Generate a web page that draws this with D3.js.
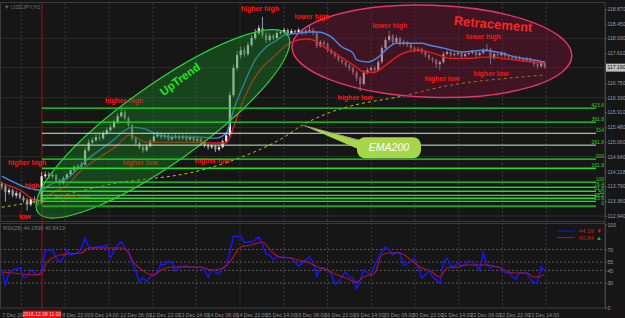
<!DOCTYPE html>
<html>
<head>
<meta charset="utf-8">
<script src="https://cdn.jsdelivr.net/npm/d3@7/dist/d3.min.js"></script>
<style>
  body { margin: 0; background: #161616; }
  svg { display: block; font-family: "Liberation Sans", Arial, sans-serif; }
</style>
</head>
<body>
<svg id="chart" width="625" height="318"></svg>
<script>
// USDJPY H1 (drawn as 2-hour bars), 7 Dec - 23 Dec 2016
const firstOpen = 113.85;
const closes = [113.79,113.62,113.68,113.53,113.59,113.47,113.39,113.27,113.42,113.36,
  113.30,114.08,114.13,114.08,114.11,113.96,113.88,114.02,114.13,114.25,
  114.34,114.36,114.42,114.82,115.05,115.11,115.20,115.17,115.31,115.40,
  115.48,115.63,115.80,115.91,115.74,115.54,115.17,115.03,114.91,114.82,
  114.94,115.08,115.22,115.28,115.20,115.25,115.14,115.20,115.22,115.17,
  115.22,115.14,115.20,115.11,115.14,115.05,114.97,114.91,114.94,114.85,
  114.91,115.08,115.25,116.40,117.18,117.55,117.69,117.58,117.84,118.04,
  118.18,118.32,118.12,117.98,118.10,118.04,118.18,118.21,118.27,118.18,
  118.24,118.21,118.27,118.18,118.24,118.27,118.18,117.81,117.92,117.87,
  117.69,117.61,117.52,117.41,117.35,117.26,117.18,117.06,116.89,116.72,
  117.06,117.12,117.18,117.12,117.35,117.75,117.98,118.10,117.92,118.04,
  117.87,117.92,117.84,117.75,117.69,117.72,117.64,117.55,117.46,117.41,
  117.29,117.35,117.58,117.64,117.55,117.58,117.61,117.52,117.58,117.61,
  117.64,117.55,117.61,117.69,117.72,117.46,117.58,117.55,117.61,117.52,
  117.49,117.46,117.49,117.44,117.41,117.44,117.38,117.29,117.23,117.32,
  117.20];
const highs = [113.92,113.85,113.75,113.72,113.66,113.63,113.52,113.45,113.48,113.50,
  113.42,114.20,114.22,114.20,114.18,114.14,114.00,114.08,114.18,114.30,
  114.40,114.43,114.50,114.90,115.14,115.20,115.27,115.28,115.38,115.47,
  115.56,115.70,115.88,116.03,115.97,115.79,115.58,115.22,115.08,114.96,
  115.00,115.14,115.30,115.36,115.33,115.32,115.30,115.26,115.29,115.27,
  115.28,115.26,115.25,115.24,115.20,115.18,115.09,115.01,115.00,114.98,
  114.97,115.13,115.32,116.50,117.28,117.66,117.80,117.78,117.92,118.12,
  118.30,118.40,118.64,118.20,118.18,118.15,118.24,118.27,118.33,118.31,
  118.30,118.28,118.33,118.30,118.30,118.41,118.32,118.22,117.98,117.97,
  117.91,117.74,117.66,117.56,117.47,117.40,117.31,117.22,117.10,116.95,
  117.12,117.19,117.25,117.23,117.42,117.82,118.06,118.24,118.15,118.12,
  118.08,117.99,117.96,117.88,117.80,117.78,117.76,117.68,117.59,117.50,
  117.45,117.40,117.64,117.70,117.68,117.64,117.67,117.64,117.63,117.66,
  117.70,117.68,117.66,117.75,117.87,117.76,117.64,117.62,117.66,117.64,
  117.57,117.54,117.54,117.53,117.48,117.50,117.48,117.41,117.33,117.37,
  117.36];
const lows = [113.70,113.35,113.55,113.48,113.45,113.42,113.33,113.10,113.22,113.30,
  113.22,113.26,114.02,114.01,114.02,113.90,113.82,113.84,113.98,114.09,
  114.20,114.28,114.31,114.38,114.78,115.00,115.06,115.10,115.12,115.26,
  115.35,115.44,115.58,115.76,115.68,115.48,115.10,114.96,114.85,114.75,
  114.78,114.90,115.04,115.18,115.14,115.15,115.09,115.10,115.15,115.11,
  115.12,115.08,115.09,115.06,115.05,114.99,114.90,114.84,114.86,114.77,
  114.80,114.88,115.04,115.20,116.35,117.10,117.45,117.50,117.52,117.78,
  117.98,118.12,118.05,117.90,117.93,117.98,118.00,118.13,118.16,118.13,
  118.14,118.15,118.17,118.12,118.13,118.20,118.12,117.74,117.76,117.80,
  117.63,117.55,117.46,117.35,117.28,117.20,117.10,116.98,116.80,116.52,
  116.68,117.00,117.08,117.05,117.08,117.30,117.70,117.92,117.86,117.88,
  117.80,117.82,117.78,117.69,117.63,117.64,117.58,117.49,117.40,117.33,
  117.18,117.12,117.30,117.54,117.50,117.51,117.53,117.47,117.48,117.54,
  117.57,117.50,117.51,117.57,117.64,117.28,117.42,117.49,117.50,117.47,
  117.43,117.40,117.41,117.38,117.35,117.36,117.32,117.22,117.15,117.18,
  117.16];

// moving averages (bar index, price)
const blueBars = [0,11,13,18,24,30,36,39,43,47,55,59,62,64,67,70,73,76,78,82,85,87,91,94,97,98,101,104,106,109,111,116,118,122,127,133,138,142,147,150];
const blueVals = [114.08,113.68,113.82,114.02,114.59,115.05,115.48,115.45,115.28,115.20,115.20,115.17,115.31,115.97,116.75,117.41,117.78,117.98,118.12,118.18,118.21,118.21,118.07,117.78,117.61,117.41,117.35,117.49,117.69,117.89,117.89,117.89,117.84,117.75,117.64,117.69,117.61,117.49,117.41,117.35];
const redBars = [0,5,11,13,18,22,27,32,35,37,40,44,55,59,62,64,66,69,72,75,78,80,84,86,89,92,95,98,100,103,106,109,111,115,119,124,129,133,138,142,147,150];
const redVals = [113.88,113.68,113.30,113.53,113.82,114.25,114.62,114.97,115.25,115.20,115.05,115.05,115.05,115.03,115.03,115.48,116.06,116.75,117.20,117.49,117.78,117.92,118.01,117.98,117.78,117.61,117.41,117.20,117.06,117.06,117.26,117.49,117.61,117.69,117.61,117.46,117.46,117.49,117.46,117.41,117.35,117.32];
const emaBars = [0,11,30,55,66,78,83,90,96,110,124,140,150];
const emaVals = [113.19,113.39,113.85,114.25,114.62,115.20,115.54,115.88,116.08,116.36,116.69,116.89,116.98];

// fibonacci expansion
const fibLevels = ["423.6","361.8","314","261.8","200","161.8","100","76.4","61.8","50","38.2","23.6","0"];
const fibPrices = [116.03,115.63,115.31,114.97,114.57,114.31,113.91,113.76,113.65,113.53,113.45,113.36,113.22];

// RSI(28) and its signal
const rsi = [45.5,28,42,45.5,46.7,48,36,38,45.5,42,
  39.6,45,68,69.4,69.4,60,55,60,69.4,63.4,
  64.5,65.8,71.8,83.7,73,71.8,73,73,74,75.4,
  60,68,75,79,71.8,65.8,55,44,32,36,
  32,37,39.6,43,52.7,51.5,56.3,54,44,49,
  50.3,50.3,49,49,48,49,45.5,37,45.5,43,
  40.8,48,50.3,67,86,85,86,78,79,79,
  81.3,85,75.4,64.5,63.4,57.5,61,61,59.9,59.9,
  59.9,55,50.3,54,57.5,61,55,38,48,48,
  45.5,40.8,28.8,30,38,43,37,36,22.8,33.6,
  45.5,42,40.8,50.3,59.9,68,73,69.4,63.4,67,
  65.8,51.5,52.7,55,58.7,48,36,39.6,45.5,37,
  33.6,30,55,59.9,50.3,50.3,54,50.3,51.5,56.3,
  55,51.5,45.5,65.8,52.7,48,50.3,49,48,42,
  42,38,34.8,42,42,42,34.8,30,31.2,49,
  44.2];
const sigBars = [0,3,9,11,12,14,18,22,24,27,31,33,35,36,38,40,42,44,47,55,58,61,63,66,69,72,73,75,77,80,82,85,88,90,91,95,98,100,103,105,107,110,113,116,118,121,123,126,128,131,134,137,140,142,145,147,148,150];
const sigVals = [43.1,41.9,39.6,40.8,51.5,59.9,64.6,65.8,71.8,71.8,71.8,71.8,67,57.5,47.9,41.9,39.6,45.5,49.1,49.1,45.5,47.9,55.1,73,75.4,79,75.4,65.8,61,59.9,57.5,53.9,47.9,45.5,43,36,31.2,37.2,41.9,63.4,65.8,65.8,57.5,47.9,45.5,37.2,47.9,49.1,51.5,51.5,51.5,49.1,43.1,41.9,41.9,37.2,37.2,40.84];
const rsiLevels = [70,55,45,30];
const rsiTicks = [100,70,55,45,30,0];

// axes
const priceTicks = [118.870,118.450,118.030,117.610,116.750,116.330,115.910,115.480,115.060,114.640,114.218,113.790,113.360,112.940];
const gridPrices = [118.03,117.19,116.33,115.48,114.64,113.79,112.94];
const lastPrice = 117.190;
const timeLabels = ["7 Dec 2016","8 Dec 22:00","9 Dec 14:00","12 Dec 06:00","12 Dec 22:00","13 Dec 14:00","14 Dec 06:00","14 Dec 22:00","15 Dec 14:00","16 Dec 06:00","16 Dec 22:00","19 Dec 14:00","20 Dec 06:00","20 Dec 22:00","21 Dec 14:00","22 Dec 06:00","22 Dec 22:00","23 Dec 14:00"];
const timeBars = [0,16.6,24.4,32.6,40.7,48.7,56.7,64.7,72.7,81,89,97,105.3,113.3,121.3,129.3,137.3,145.3];
const dayBars = [5.4,17.5,29.6,41.8,53.7,65.8,77.9,90,102.1,114.1,126.2,138.3,150.4];
const markerBar = 11.1;
const markerLabel = "2016.12.08 11:00";

// swing annotations: text, bar, price
const notes = [
  ["higher high", 71.3, 118.87], ["lower high", 85.7, 118.64], ["lower high", 107.2, 118.41],
  ["higher low", 97.6, 116.34], ["lower high", 133, 118.07], ["higher low", 121.6, 116.89],
  ["higher low", 135.1, 117.03], ["higher high", 33.8, 116.26], ["higher high", 7, 114.48],
  ["high", 8.3, 113.82], ["low", 6.4, 112.93], ["higher low", 19.4, 113.50],
  ["higher low", 38.2, 114.48], ["higher low", 58.1, 114.54]
];

const W = 625, H = 318, plotRight = 605;
const svg = d3.select('#chart');
svg.append('rect').attr('width', W).attr('height', H).attr('fill', '#161616');

const x = d3.scaleLinear().domain([0, 150]).range([1.8, 544.8]);
const y = d3.scaleLinear().domain([112.94, 118.87]).range([216, 9]);
const yR = d3.scaleLinear().domain([0, 100]).range([308, 224.4]);

const defs = svg.append('defs');
defs.append('clipPath').attr('id', 'clipP').append('rect').attr('x', 0).attr('y', 3).attr('width', plotRight).attr('height', 218);
defs.append('clipPath').attr('id', 'clipR').append('rect').attr('x', 0).attr('y', 224).attr('width', plotRight).attr('height', 84);

// grid
const grid = svg.append('g');
grid.selectAll('.hg').data(gridPrices).enter().append('line')
  .attr('x1', 0).attr('x2', plotRight).attr('y1', d => y(d)).attr('y2', d => y(d))
  .attr('stroke', '#2c2c2c');
grid.selectAll('.vg').data(dayBars).enter().append('line')
  .attr('x1', d => x(d)).attr('x2', d => x(d)).attr('y1', 3).attr('y2', 308)
  .attr('stroke', '#3a3a3a').attr('stroke-dasharray', '2,2');
grid.selectAll('.rl').data(rsiLevels).enter().append('line')
  .attr('x1', 0).attr('x2', plotRight).attr('y1', d => yR(d)).attr('y2', d => yR(d))
  .attr('stroke', '#5a5a5a').attr('stroke-dasharray', '2,2');

// frames
svg.append('rect').attr('x', 0.5).attr('y', 2.5).attr('width', plotRight - 0.5).attr('height', 219)
  .attr('fill', 'none').attr('stroke', '#3a3a3a');
svg.append('rect').attr('x', 0.5).attr('y', 223.5).attr('width', plotRight - 0.5).attr('height', 84.5)
  .attr('fill', 'none').attr('stroke', '#3a3a3a');

// marker line
svg.append('line').attr('x1', x(markerBar)).attr('x2', x(markerBar)).attr('y1', 3).attr('y2', 308)
  .attr('stroke', '#8e1010').attr('stroke-width', 1.2);

const price = svg.append('g').attr('clip-path', 'url(#clipP)');
const line = d3.line().x(d => x(d[0])).y(d => y(d[1])).curve(d3.curveMonotoneX);

// EMA200
price.append('path').datum(d3.zip(emaBars, emaVals)).attr('d', line)
  .attr('fill', 'none').attr('stroke', '#c9b81c').attr('stroke-width', 1).attr('stroke-dasharray', '3,3');

// candles
const bars = closes.map((c, i) => ({ i, o: i ? closes[i - 1] : firstOpen, c, h: highs[i], l: lows[i] }));
const cg = price.selectAll('.candle').data(bars).enter().append('g');
cg.append('line').attr('x1', d => x(d.i)).attr('x2', d => x(d.i))
  .attr('y1', d => y(d.h)).attr('y2', d => y(d.l)).attr('stroke', '#c4c4c4').attr('stroke-width', 0.8);
cg.append('rect').attr('x', d => x(d.i) - 1.1).attr('width', 2.2)
  .attr('y', d => y(Math.max(d.o, d.c)))
  .attr('height', d => Math.max(1, Math.abs(y(d.o) - y(d.c))))
  .attr('fill', d => d.c >= d.o ? '#ececec' : '#9a9a9a');

// retracement ellipse (MAs stay on top of it)
price.append('ellipse')
  .attr('transform', `translate(${x(118.8)},${y(117.66)}) rotate(2)`)
  .attr('rx', 140).attr('ry', 46)
  .attr('fill', 'rgba(115,20,50,0.45)').attr('stroke', '#e8336a').attr('stroke-width', 1.4);

// MAs
price.append('path').datum(d3.zip(redBars, redVals)).attr('d', line)
  .attr('fill', 'none').attr('stroke', '#e31b1b').attr('stroke-width', 1.4);
price.append('path').datum(d3.zip(blueBars, blueVals)).attr('d', line)
  .attr('fill', 'none').attr('stroke', '#4a86e8').attr('stroke-width', 1.4);

// swing labels
price.selectAll('.note').data(notes).enter().append('text')
  .attr('x', d => x(d[1])).attr('y', d => y(d[2])).attr('dy', '0.35em')
  .attr('text-anchor', 'middle').attr('font-size', 7).attr('font-weight', 'bold')
  .attr('fill', '#ff1212').text(d => d[0]);

// uptrend ellipse
const p1 = [x(10), y(113.04)], p2 = [x(79), y(118.12)];
const ang = Math.atan2(p2[1] - p1[1], p2[0] - p1[0]) * 180 / Math.PI;
const len = Math.hypot(p2[0] - p1[0], p2[1] - p1[1]);
price.append('ellipse')
  .attr('transform', `translate(${(p1[0] + p2[0]) / 2},${(p1[1] + p2[1]) / 2}) rotate(${ang})`)
  .attr('rx', len / 2).attr('ry', 39)
  .attr('fill', 'rgba(25,125,35,0.45)').attr('stroke', '#2fcf3f').attr('stroke-width', 1.2);

// fibo lines
const fg = price.selectAll('.fib').data(d3.zip(fibLevels, fibPrices)).enter().append('g');
fg.append('line').attr('x1', x(markerBar)).attr('x2', plotRight - 9)
  .attr('y1', d => y(d[1])).attr('y2', d => y(d[1]))
  .attr('stroke', d => (d[0] === '314' || d[0] === '261.8') ? '#cfe6c6' : (d[0] === '0' ? '#17a817' : '#19e619'))
  .attr('stroke-width', d => d[0] === '0' ? 2 : ((d[0] === '314' || d[0] === '261.8') ? 1 : 1.4));
fg.append('text').attr('x', plotRight - 1).attr('y', d => y(d[1]) - 1.2)
  .attr('text-anchor', 'end').attr('font-size', 5).attr('fill', '#2fd22f').text(d => d[0]);

// big labels
svg.append('text').attr('transform', `translate(${x(49.2)},${y(116.86)}) rotate(-36)`)
  .attr('text-anchor', 'middle').attr('dy', '0.35em').attr('font-size', 11.5).attr('font-weight', 'bold')
  .attr('fill', '#1ee81e').text('UpTrend');
svg.append('text').attr('transform', `translate(${x(135.7)},${y(118.44)}) rotate(5)`)
  .attr('text-anchor', 'middle').attr('dy', '0.35em').attr('font-size', 13).attr('font-weight', 'bold')
  .attr('fill', '#ff2222').text('Retracement');

// EMA200 callout
const tx = x(83.2), ty = y(115.54);
const call = svg.append('g').attr('transform', `translate(${tx},${ty})`);
call.append('path').attr('d', 'M0,0 L58,15 L58,25 Z').attr('fill', '#a8d64a');
call.append('line').attr('x1', 0).attr('y1', 0).attr('x2', 56).attr('y2', 15).attr('stroke', '#8c8c8c').attr('stroke-width', 0.8);
call.append('rect').attr('x', 54).attr('y', 12).attr('width', 64).attr('height', 21).attr('rx', 8)
  .attr('fill', '#a8d64a');
call.append('text').attr('x', 86).attr('y', 22.5).attr('dy', '0.35em').attr('text-anchor', 'middle')
  .attr('font-size', 10.5).attr('font-style', 'italic').attr('fill', '#ffffff').text('EMA200');

// header
svg.append('text').attr('x', 4).attr('y', 8.5).attr('font-size', 5.5).attr('fill', '#6c6c6c').text('▼ USDJPY,H1');

// RSI pane
const rp = svg.append('g').attr('clip-path', 'url(#clipR)');
const rline = d3.line().x(d => x(d[0])).y(d => yR(d[1]));
rp.append('path').datum(rsi.map((v, i) => [i, v])).attr('d', rline)
  .attr('fill', 'none').attr('stroke', '#1616ff').attr('stroke-width', 1.4);
rp.append('path').datum(d3.zip(sigBars, sigVals)).attr('d', rline.curve(d3.curveMonotoneX))
  .attr('fill', 'none').attr('stroke', '#b3122a').attr('stroke-width', 1.1);
svg.append('text').attr('x', 3).attr('y', 230).attr('font-size', 5.5).attr('fill', '#777')
  .text('RSI(28) 44.1896 40.8413');

// RSI legend
const lg = svg.append('g');
lg.append('line').attr('x1', 557).attr('x2', 575).attr('y1', 231).attr('y2', 231).attr('stroke', '#1616c0').attr('stroke-width', 1.2);
lg.append('text').attr('x', 578.5).attr('y', 233.3).attr('font-size', 6.2).attr('fill', '#e01010').text('44.19');
lg.append('text').attr('x', 596).attr('y', 233.3).attr('font-size', 6).attr('fill', '#e01010').text('▼');
lg.append('line').attr('x1', 557).attr('x2', 575).attr('y1', 237.5).attr('y2', 237.5).attr('stroke', '#a0101e').attr('stroke-width', 1.2);
lg.append('text').attr('x', 578.5).attr('y', 240).attr('font-size', 6.2).attr('fill', '#e01010').text('40.84');
lg.append('text').attr('x', 596).attr('y', 240).attr('font-size', 6).attr('fill', '#10c010').text('▲');

// right axes
const ax = svg.append('g').attr('transform', `translate(${plotRight},0)`)
  .call(d3.axisRight(y).tickValues(priceTicks).tickFormat(d3.format('.3f')).tickSize(2));
const axR = svg.append('g').attr('transform', `translate(${plotRight},0)`)
  .call(d3.axisRight(yR).tickValues(rsiTicks).tickSize(2));
[ax, axR].forEach(a => {
  a.select('.domain').attr('stroke', '#444');
  a.selectAll('line').attr('stroke', '#555');
  a.selectAll('text').attr('font-size', 5.1).attr('fill', '#9c9c9c').attr('x', 2.5);
});
svg.append('line').attr('x1', plotRight).attr('x2', plotRight).attr('y1', 222).attr('y2', 224).attr('stroke', '#444');
svg.append('rect').attr('x', plotRight + 1).attr('y', y(lastPrice) - 4).attr('width', 19).attr('height', 8).attr('fill', '#bdbdbd');
svg.append('text').attr('x', plotRight + 2.5).attr('y', y(lastPrice)).attr('dy', '0.35em')
  .attr('font-size', 5.1).attr('fill', '#111').text(d3.format('.3f')(lastPrice));

// time axis
const tax = svg.append('g').attr('transform', 'translate(0,310)')
  .call(d3.axisBottom(x).tickValues(timeBars).tickFormat((d, i) => timeLabels[i]).tickSize(0));
tax.select('.domain').remove();
tax.selectAll('text').attr('font-size', 5.2).attr('fill', '#8a8a8a').attr('text-anchor', 'start').attr('dy', '0.75em');
svg.append('rect').attr('x', x(markerBar) - 19).attr('y', 310.5).attr('width', 38).attr('height', 7.5).attr('fill', '#e01212');
svg.append('text').attr('x', x(markerBar)).attr('y', 316.3).attr('text-anchor', 'middle')
  .attr('font-size', 5).attr('fill', '#ffd8d8').text(markerLabel);
</script>
</body>
</html>
